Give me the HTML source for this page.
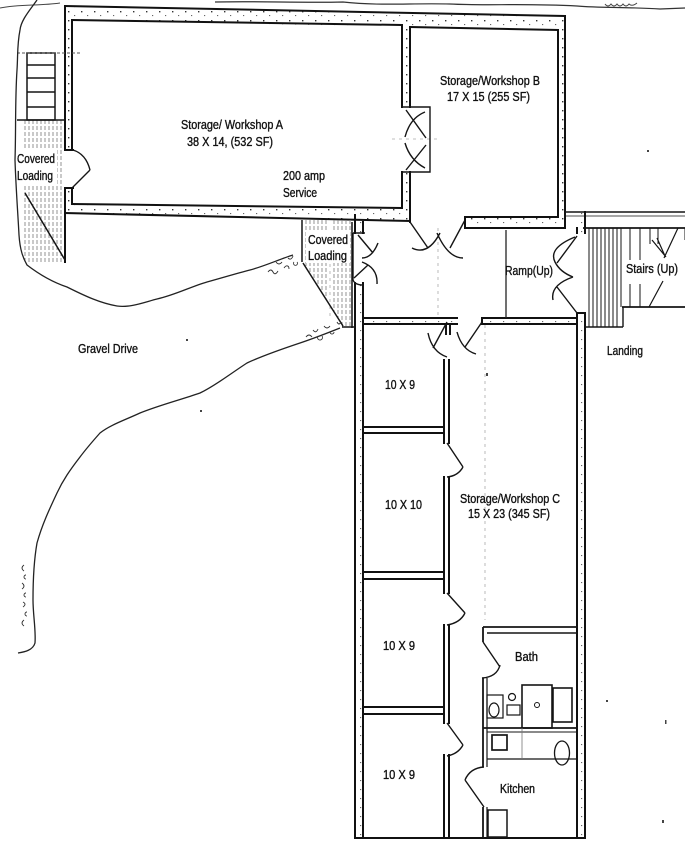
<!DOCTYPE html>
<html><head><meta charset="utf-8"><style>
html,body{margin:0;padding:0;background:#fff;}
svg{display:block;}
text{font-family:"Liberation Sans",sans-serif;fill:#111;stroke:#111;stroke-width:0.35;}
</style></head><body>
<svg width="685" height="858" viewBox="0 0 685 858" xmlns="http://www.w3.org/2000/svg">
<defs>
<pattern id="spk" width="13" height="9" patternUnits="userSpaceOnUse">
<rect x="0" y="0" width="13" height="9" fill="#fff"/>
<rect x="3" y="2" width="1.4" height="1.4" fill="#333"/>
<rect x="9" y="6" width="1.2" height="1.1" fill="#666"/>
</pattern>
<clipPath id="cl2"><polygon points="303,220 352,220 352,327 343,327 303,263"/></clipPath>
<clipPath id="cl1"><polygon points="23,120 65,120 65,262 23,262"/></clipPath>
</defs>
<rect width="685" height="858" fill="#fff"/>
<path d="M215,2 C260,1 300,3 343,2 C380,6 410,3 450,4 C490,6 520,3 577,6 C600,8 630,7 660,9 L685,8" fill="none" stroke="#333" stroke-width="1.2"/>
<path d="M605,4 q3,4 6,0 q3,4 6,0 q3,4 6,0 q3,4 6,0 q3,3 8,-1" fill="none" stroke="#444" stroke-width="1"/>
<path d="M0,8 C20,4 40,6 60,3" fill="none" stroke="#444" stroke-width="1"/>
<g fill="url(#spk)">
<polygon points="65,6 565,16 558,30 72,20"/>
<polygon points="65,6 72,20 72,204 65,213"/>
<polygon points="65,213 72,204 402,208 410,222"/>
<rect x="402" y="22" width="8" height="200"/>
<rect x="558" y="16" width="7" height="212"/>
<rect x="465" y="217" width="100" height="11"/>
<rect x="355" y="215" width="8" height="18"/>
<rect x="355" y="283" width="8" height="555"/>
<rect x="577" y="210" width="8" height="23"/>
<rect x="577" y="313" width="8" height="525"/>
<rect x="363" y="318" width="94" height="6"/>
<rect x="482" y="318" width="95" height="6"/>
</g>
<rect x="64" y="151" width="9" height="36" fill="#fff"/>
<rect x="401" y="108" width="10" height="63" fill="#fff"/>
<g stroke="#111" stroke-width="2" fill="none" stroke-linecap="square">
<path d="M65,6 L565,16 M72,20 L402,25 M410,27 L558,30"/>
<path d="M65,6 V150 M65,188 V262 M72,20 V150 M72,188 V204 M65,150 H73 M65,188 H73"/>
<path d="M72,204 L402,208 M65,213 L410,221"/>
<path d="M402,25 V107 M402,172 V208 M410,27 V107 M410,172 V222"/>
<path d="M558,30 V217 M565,16 V228 M465,217 H558 M465,228 H565 M465,217 V228"/>
<path d="M355,215 V233 M363,222 V233 M355,283 V838 M363,283 V838"/>
<path d="M577,228 V233 M585,212 V233 M577,313 V838 M585,313 V838 M577,313 H585"/>
<path d="M363,318 H457 M363,324 H457 M482,318 H577 M482,324 H577 M482,318 V324"/>
<path d="M355,838 H585"/>
<path d="M444,360 V443 M449,360 V443 M444,477 V593 M449,477 V593 M444,625 V723 M449,625 V723 M444,755 V838 M449,755 V838"/>
<path d="M363,427 H444 M363,433 H444 M363,572 H444 M363,579 H444 M363,707 H444 M363,714 H444"/>
</g>
<g stroke="#151515" fill="none">
<path d="M565,212 H685" stroke-width="1.6"/>
<path d="M565,216 H685" stroke-width="0.8"/>
<path d="M583,228 H685 M622,307 H685" stroke-width="1.8"/>
<path d="M623,307 V327 M585,327 H623" stroke-width="1.4"/>
<path d="M589,228 V327 M593,228 V327 M597,228 V327 M601,228 V327 M605,228 V327 M609,228 V327 M613,228 V327 M617,228 V327 M621,228 V307 M630,228 V260 M640,228 V260 M650,228 V244 M658,228 V244 M630,284 V307 M640,284 V307" stroke-width="1"/>
<path d="M678,228 L664,258 M652,240 L666,257 M657,238 L665,256 M663,281 L649,307" stroke-width="1.2"/>
<path d="M685,228 V240" stroke-width="1"/>
</g>
<path d="M506,230 V318" stroke="#222" stroke-width="1.3"/>
<g stroke="#aaa" stroke-width="0.8" stroke-dasharray="3 4" fill="none">
<path d="M438,228 V318 M485,325 V620 M392,139 H440 M330,236 V320"/>
</g>
<g stroke="#151515" stroke-width="1.4" fill="none">
<path d="M72,188 L90,170 M90,170 Q86,154 73,150"/>
<path d="M402,107 L430,107 L430,172 L402,172"/>
<path d="M406,110 L426,138 M425,112 Q410,118 405,137 M406,170 L426,145 M425,168 Q410,160 405,143"/>
<path d="M410,222 L428,248 M412,248 Q428,256 440,233 M465,220 L450,248 M437,233 Q448,258 463,258"/>
<path d="M353,233 L365,233 M353,233 L353,280 Q355,285 363,285"/>
<path d="M358,235 L373,253 M378,243 Q372,258 362,258 M354,278 L368,265 M362,262 Q378,268 377,284"/>
<path d="M577,236 L557,263 M575,237 Q548,248 555,262 Q560,272 573,277 M577,313 L557,287 M573,277 Q550,285 553,300"/>
<path d="M447,322 L433,348 M428,333 Q432,352 447,357 M482,322 L465,347 M457,332 Q462,350 476,354"/>
<path d="M446,324 V335 M450,324 V335" stroke-width="2"/>
<path d="M447,443 L463,467 M463,467 Q458,476 447,477"/>
<path d="M447,593 L465,613 M465,613 Q460,623 447,625"/>
<path d="M447,723 L463,745 M463,745 Q458,754 447,756"/>
<path d="M483,642 L500,667 M500,665 Q497,677 482,678"/>
<path d="M484,807 L465,780 M465,780 Q470,768 484,767"/>
</g>
<g stroke="#151515" fill="none">
<path d="M483,627 H578 M483,627 V642 M483,678 V767 M483,807 V838" stroke-width="1.8"/>
<path d="M487,633 H577" stroke-width="1.4"/>
<path d="M487,678 V767 M487,807 V838" stroke-width="1.2"/>
<rect x="487" y="695" width="16" height="23" stroke-width="1.2"/>
<ellipse cx="494" cy="710" rx="5" ry="7" stroke-width="1.2"/>
<circle cx="512" cy="697" r="3.5" stroke-width="1.2"/>
<rect x="507" y="705" width="13" height="10" stroke-width="1.2"/>
<rect x="522" y="685" width="30" height="43" stroke-width="1.6"/>
<circle cx="537" cy="705" r="2.5" stroke-width="1"/>
<rect x="553" y="688" width="19" height="34" stroke-width="1.6"/>
<path d="M483,728 H578" stroke-width="1.7"/>
<path d="M487,732 H578" stroke-width="1"/>
<rect x="492" y="735" width="15" height="15" stroke-width="1.7"/>
<ellipse cx="562" cy="753" rx="7.5" ry="12" stroke-width="1.3"/>
<path d="M487,759 H578" stroke-width="1.3"/>
<path d="M522,728 V759" stroke-width="0.8" stroke="#777"/>
<rect x="488" y="810" width="19" height="27" stroke-width="1.5"/>
</g>
<g stroke="#888" stroke-width="0.9" stroke-dasharray="4 2" clip-path="url(#cl1)">
<path d="M25,120 V262 M29,120 V262 M33,120 V262 M37,120 V262 M41,120 V262 M45,120 V262 M49,120 V262 M53,120 V262 M57,120 V262 M61,120 V262"/>
</g>
<rect x="17" y="150" width="40" height="36" fill="#fff"/>
<g stroke="#151515" fill="none" stroke-width="1.5">
<rect x="27" y="53" width="28" height="67"/>
<path d="M27,65 H55 M27,78 H55 M27,92 H55 M27,107 H55 M17,120 H65 M25,193 L65,260"/>
</g>
<path d="M17,53 H82" stroke="#555" stroke-width="1" stroke-dasharray="3 2"/>
<g stroke="#888" stroke-width="0.9" stroke-dasharray="4 2" clip-path="url(#cl2)">
<path d="M306,220 V327 M310,220 V327 M314,220 V327 M318,220 V327 M322,220 V327 M326,220 V327 M334,220 V327 M338,220 V327 M342,220 V327 M346,220 V327 M350,220 V327"/>
</g>
<rect x="306" y="230" width="44" height="33" fill="#fff"/>
<g stroke="#151515" fill="none" stroke-width="1.5">
<path d="M302,220 V262 M352,222 V328 M303,263 L343,326 M342,327 H355"/>
</g>
<g stroke="#222" stroke-width="1.3" fill="none">
<path d="M37,0 C30,10 21,20 20,30 C17,45 18,55 17,70 C15,100 16,130 15,160 C16,190 18,215 19,235 C20,250 23,258 27,265 C40,275 55,283 67,287 C85,296 100,303 117,306 C130,308 145,302 157,299 C175,295 190,287 207,282 C225,277 238,273 250,270 C265,266 280,259 293,255"/>
<path d="M340,328 C325,334 312,339 300,343 C282,349 262,356 247,363 C230,374 215,386 200,393 C180,400 160,405 140,413 C125,420 110,425 100,433 C92,442 86,449 80,457 C70,470 63,480 57,493 C49,510 42,525 37,543 C34,560 33,580 33,600 C33,615 36,630 35,643 C33,650 25,652 18,653"/>
</g>
<g stroke="#333" stroke-width="0.9" fill="none">
<path d="M268,272 q3,-4 5,0 q2,4 5,-1 M276,262 q3,4 6,0 M284,268 c2,-3 5,-3 5,1 M288,258 q3,3 5,-2 M294,262 a2,2 0 1 0 3,0"/>
<path d="M306,337 q3,-4 6,0 M313,330 q3,4 5,-1 M318,336 a2.5,2.5 0 1 0 4,0 M324,326 q3,4 6,0 M330,332 a2,2 0 1 0 4,0 M337,322 q2,4 4,0"/>
<path d="M24,565 q-4,3 0,6 M26,575 a2,2 0 1 0 0,4 M22,583 q4,3 0,6 M26,593 a2,2 0 1 0 0,4 M23,602 q4,2 0,5 M27,612 a2,2 0 1 0 0,4 M24,620 q-4,3 0,6"/>
</g>
<g font-size="12.5">
<text x="181" y="129" textLength="102" lengthAdjust="spacingAndGlyphs">Storage/ Workshop A</text>
<text x="187" y="146" textLength="86" lengthAdjust="spacingAndGlyphs">38 X 14, (532 SF)</text>
<text x="283" y="180" textLength="42" lengthAdjust="spacingAndGlyphs">200 amp</text>
<text x="283" y="197" textLength="34" lengthAdjust="spacingAndGlyphs">Service</text>
<text x="17" y="163" textLength="38" lengthAdjust="spacingAndGlyphs">Covered</text>
<text x="17" y="180" textLength="36" lengthAdjust="spacingAndGlyphs">Loading</text>
<text x="308" y="244" textLength="40" lengthAdjust="spacingAndGlyphs">Covered</text>
<text x="308" y="260" textLength="39" lengthAdjust="spacingAndGlyphs">Loading</text>
<text x="440" y="85" textLength="100" lengthAdjust="spacingAndGlyphs">Storage/Workshop B</text>
<text x="447" y="101" textLength="83" lengthAdjust="spacingAndGlyphs">17 X 15 (255 SF)</text>
<text x="505" y="275" textLength="48" lengthAdjust="spacingAndGlyphs">Ramp(Up)</text>
<text x="626" y="273" textLength="52" lengthAdjust="spacingAndGlyphs">Stairs (Up)</text>
<text x="607" y="355" textLength="36" lengthAdjust="spacingAndGlyphs">Landing</text>
<text x="78" y="353" textLength="60" lengthAdjust="spacingAndGlyphs">Gravel Drive</text>
<text x="385" y="389" textLength="30" lengthAdjust="spacingAndGlyphs">10 X 9</text>
<text x="385" y="509" textLength="37" lengthAdjust="spacingAndGlyphs">10 X 10</text>
<text x="460" y="503" textLength="100" lengthAdjust="spacingAndGlyphs">Storage/Workshop C</text>
<text x="468" y="518" textLength="82" lengthAdjust="spacingAndGlyphs">15 X 23 (345 SF)</text>
<text x="383" y="650" textLength="32" lengthAdjust="spacingAndGlyphs">10 X 9</text>
<text x="383" y="779" textLength="32" lengthAdjust="spacingAndGlyphs">10 X 9</text>
<text x="515" y="661" textLength="23" lengthAdjust="spacingAndGlyphs">Bath</text>
<text x="500" y="793" textLength="35" lengthAdjust="spacingAndGlyphs">Kitchen</text>
</g>
<g fill="#444">
<rect x="647" y="150" width="2" height="2"/>
<rect x="665" y="720" width="1.5" height="4"/>
<rect x="186" y="339" width="2" height="2"/>
<rect x="200" y="410" width="2" height="2"/>
<rect x="486" y="373" width="2" height="3"/>
<rect x="606" y="700" width="2" height="2"/>
<rect x="662" y="820" width="2" height="3"/>
</g>
</svg>
</body></html>
